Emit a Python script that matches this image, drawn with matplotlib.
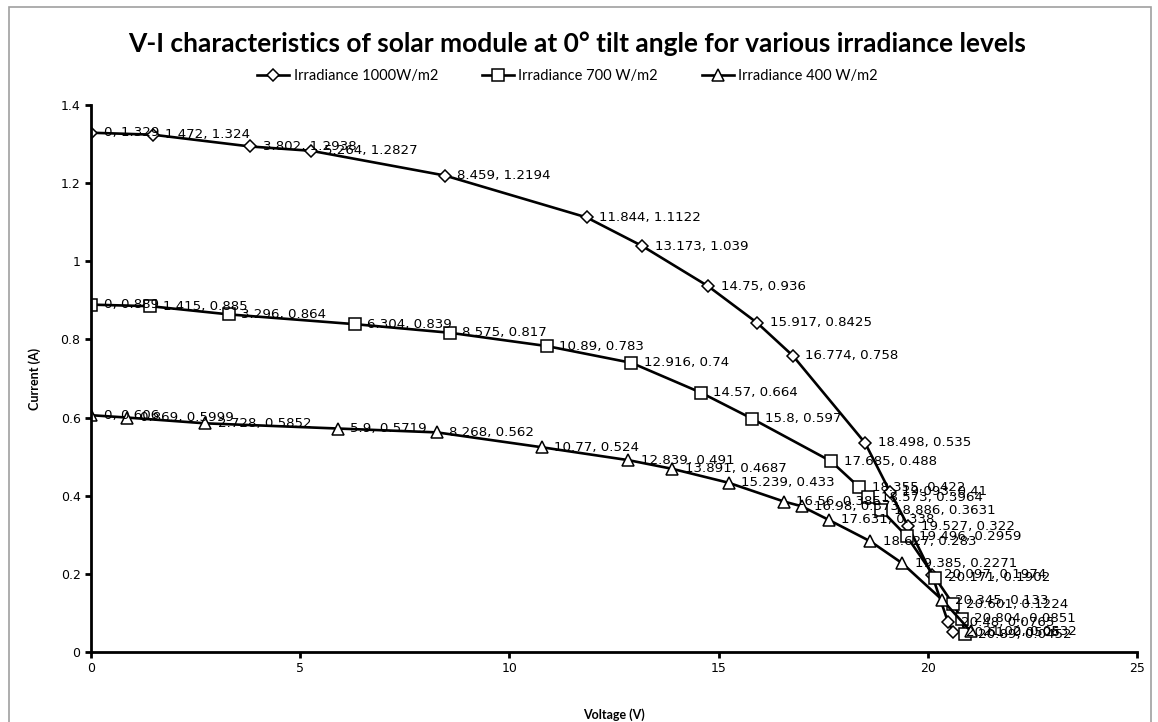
import matplotlib
matplotlib.use('Agg')
import matplotlib.pyplot as plt
from matplotlib.patches import Rectangle

# V-I data
v_1000 = [0, 1.472, 3.802, 5.264, 8.459, 11.844, 13.173, 14.75, 15.917, 16.774,
          18.498, 19.093, 19.527, 20.097, 20.48, 20.61]
i_1000 = [1.329, 1.324, 1.2938, 1.2827, 1.2194, 1.1122, 1.039, 0.936, 0.8425, 0.758,
          0.535, 0.41, 0.322, 0.1974, 0.0765, 0.0506]

v_700 = [0, 1.415, 3.296, 6.304, 8.575, 10.89, 12.916, 14.57, 15.8, 17.685,
         18.355, 18.573, 18.886, 19.496, 20.171, 20.601, 20.804, 20.89]
i_700 = [0.889, 0.885, 0.864, 0.839, 0.817, 0.783, 0.74, 0.664, 0.597, 0.488,
         0.422, 0.3964, 0.3631, 0.2959, 0.1902, 0.1224, 0.0851, 0.0452]

v_400 = [0, 0.869, 2.728, 5.9, 8.268, 10.77, 12.839, 13.891, 15.239, 16.56,
         16.98, 17.631, 18.627, 19.385, 20.345, 21.02]
i_400 = [0.606, 0.5999, 0.5852, 0.5719, 0.562, 0.524, 0.491, 0.4687, 0.433, 0.385,
         0.373, 0.338, 0.283, 0.2271, 0.133, 0.0532]

series = [
    ('Irradiance 1000W/m2', v_1000, i_1000, 'D', 6.5),
    ('Irradiance 700 W/m2', v_700, i_700, 's', 8.5),
    ('Irradiance 400 W/m2', v_400, i_400, '^', 9),
]

fig = plt.figure(figsize=(11.58, 7.22), dpi=100)
ax = fig.add_axes([0.0786, 0.097, 0.9034, 0.7576])

for name, v, i, mk, ms in series:
    ax.plot(v, i, color='black', lw=1.9, marker=mk, ms=ms, mfc='white',
            mec='black', mew=1.1, label=name)
    for x, y in zip(v, i):
        ax.annotate(f'{x:g}, {y:g}', (x, y), xytext=(9, 0), textcoords='offset points',
                    va='center', ha='left', fontsize=9.6, family='DejaVu Sans')

ax.set_xlim(0, 25)
ax.set_ylim(0, 1.4)
ax.set_xticks([0, 5, 10, 15, 20, 25])
ax.set_yticks([0, 0.2, 0.4, 0.6, 0.8, 1, 1.2, 1.4])
ax.set_yticklabels(['0', '0.2', '0.4', '0.6', '0.8', '1', '1.2', '1.4'])
ax.tick_params(direction='out', length=4, width=2, labelsize=9)
for s in ['top', 'right']:
    ax.spines[s].set_visible(False)
for s in ['left', 'bottom']:
    ax.spines[s].set_linewidth(2)

ax.set_xlabel('Voltage (V)', fontsize=9, fontweight='bold', family='Lato', labelpad=24)
ax.set_ylabel('Current (A)', fontsize=9, fontweight='bold', family='Lato', labelpad=14)

fig.text(0.498, 0.94, 'V-I characteristics of solar module at 0\u00b0 tilt angle for various irradiance levels',
         ha='center', va='center', fontsize=19, fontweight='bold', family='Lato')

fig.legend(loc='center', bbox_to_anchor=(0.49, 0.895), ncol=3, frameon=False,
           prop={'family': 'Lato', 'size': 10.5}, handlelength=2.2,
           columnspacing=3.0, handletextpad=0.3)

fig.patches.append(Rectangle((0.008, -0.01), 0.986, 1.0, transform=fig.transFigure,
                             fill=False, edgecolor='#a0a0a0', lw=1.2))

fig.savefig('out.png', dpi=100)
